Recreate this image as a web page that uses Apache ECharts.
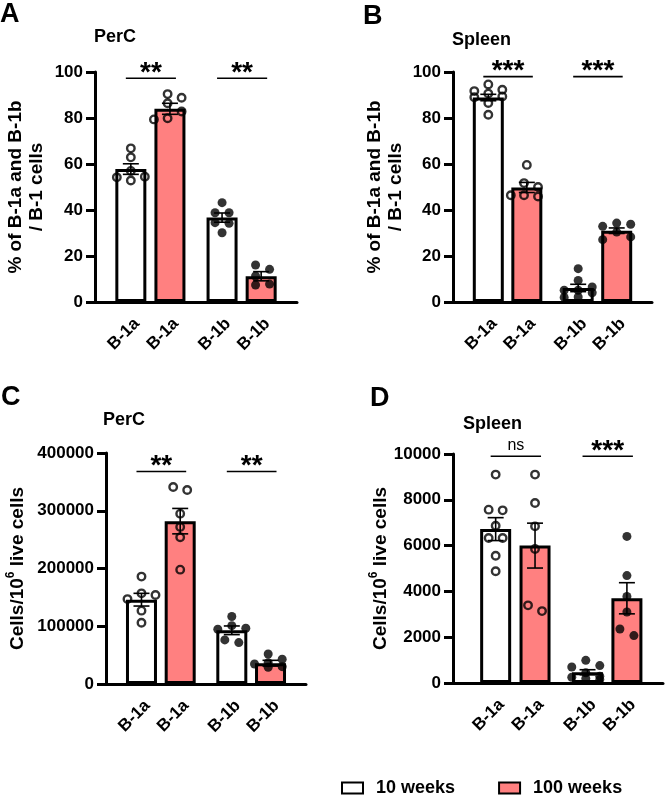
<!DOCTYPE html>
<html><head><meta charset="utf-8">
<script src="https://cdn.jsdelivr.net/npm/echarts@6/dist/echarts.min.js"></script>
<style>html,body{margin:0;padding:0;background:#fff}#c{width:665px;height:795px}</style>
</head><body><div id="c"></div>
<script>
// ---------- data ----------
const categories = ['B-1a', 'B-1a', 'B-1b', 'B-1b'];
const groups = ['10 weeks', '100 weeks', '10 weeks', '100 weeks'];
const groupNames = ['10 weeks', '100 weeks'];

// Panel A: PerC, % of B-1 cells
const aPoints = [
  [57.0, 52.8, 54.5, 54.2, 66.8, 62.9],
  [90.4, 88.8, 86.4, 82.8, 79.9, 79.4],
  [43.2, 38.8, 38.8, 34.5, 34.2, 30.1],
  [11.3, 14.2, 16.1, 7.4, 7.8]
];
const aMean = [57.8, 84.0, 36.7, 11.2];
const aSem = [2.3, 2.4, 2.0, 2.0];
const aSig = ['**', '**'];
const aSigY = [97.3, 97.3];
const aTicks = [0, 20, 40, 60, 80, 100];

// Panel B: Spleen, % of B-1 cells
const bPoints = [
  [94.6, 92.3, 91.7, 90.6, 89.4, 89.0, 86.5, 81.4],
  [59.6, 51.7, 50.0, 46.4, 46.4, 45.9],
  [14.5, 9.4, 6.5, 5.1, 5.1, 4.0, 2.2, 2.0],
  [33.8, 34.3, 32.9, 30.4, 27.1, 28.3]
];
const bMean = [88.9, 49.8, 6.1, 31.0];
const bSem = [1.4, 2.2, 1.6, 1.2];
const bSig = ['***', '***'];
const bSigY = [98, 98];
const bTicks = [0, 20, 40, 60, 80, 100];

// Panel C: PerC, cells / 10^6 live cells
const cPoints = [
  [186000, 154000, 157000, 147000, 127000, 106000],
  [336000, 341000, 295000, 272000, 254000, 198000],
  [116800, 101000, 96500, 94800, 71700, 76300],
  [52000, 42800, 37000, 30000, 29000, 34700]
];
const cMean = [146000, 282000, 93000, 36000];
const cSem = [11000, 22000, 7500, 5000];
const cSig = ['**', '**'];
const cSigY = [368000, 368000];
const cTicks = [0, 100000, 200000, 300000, 400000];

// Panel D: Spleen, cells / 10^6 live cells
const dPoints = [
  [9100, 7570, 7540, 6870, 6330, 6330, 5560, 4880],
  [9100, 7860, 6840, 5850, 3390, 3140],
  [990, 760, 700, 450, 300, 250, 200, 150],
  [6400, 4690, 3780, 3100, 2360, 2070]
];
const dMean = [6720, 6000, 470, 3700];
const dSem = [500, 980, 110, 680];
const dSig = ['ns', '***'];
const dSigY = [9900, 9900];
const dTicks = [0, 2000, 4000, 6000, 8000, 10000];

const panelLetters = ['A', 'B', 'C', 'D'];
const panelTitles = ['PerC', 'Spleen', 'PerC', 'Spleen'];
const yNamePct = '% of B-1a and B-1b\n/ B-1 cells';
const yNameCells = '{n|Cells/10}{s|6}{n| live cells}';

// ---------- layout / style ----------
const FONT = "'Liberation Sans', Arial, Helvetica, sans-serif";
const RED = '#ff8080';
const slotOffsets = [0, 6, 14, 20];
const layout = [
  { left: 95, top: 72, width: 202, height: 230, padL: 5, padR: 5, nameGap: 48 },
  { left: 453, top: 72, width: 199, height: 230, padL: 5, padR: 5, nameGap: 47 },
  { left: 106, top: 453, width: 200, height: 231, padL: 5, padR: 5, nameGap: 75 },
  { left: 453, top: 454, width: 210, height: 229, padL: 6, padR: 5, nameGap: 54 }
];
const titlePos = [
  { letter: [0, 1], title: [94, 28] },
  { letter: [363, 3], title: [452, 31] },
  { letter: [1, 384], title: [103, 411] },
  { letter: [370, 385], title: [463, 415] }
];
// dot spreading (GraphPad-like scatter arrangement)
const SWARM_SP = 14;     // horizontal spacing of colliding dots (px)
const SWARM_ROW = 8.5;   // vertical distance below which dots collide (px)
const SWARM_CANDS = [0, 7, -7, 14, -14];
const SWARM_MAX = 16;

const panels = [
  { points: aPoints, mean: aMean, sem: aSem, sig: aSig, sigY: aSigY, ticks: aTicks, yName: yNamePct },
  { points: bPoints, mean: bMean, sem: bSem, sig: bSig, sigY: bSigY, ticks: bTicks, yName: yNamePct },
  { points: cPoints, mean: cMean, sem: cSem, sig: cSig, sigY: cSigY, ticks: cTicks, yName: yNameCells },
  { points: dPoints, mean: dMean, sem: dSem, sig: dSig, sigY: dSigY, ticks: dTicks, yName: yNameCells }
];

function errRender(params, api) {
  const x = api.value(0), m = api.value(1), s = api.value(2);
  const top = api.coord([x, m + s]), bot = api.coord([x, m - s]);
  const cx = top[0], hw = 8;
  const st = { stroke: '#000', lineWidth: 1.6 };
  return { type: 'group', children: [
    { type: 'line', shape: { x1: cx, y1: top[1], x2: cx, y2: bot[1] }, style: st },
    { type: 'line', shape: { x1: cx - hw, y1: top[1], x2: cx + hw, y2: top[1] }, style: st },
    { type: 'line', shape: { x1: cx - hw, y1: bot[1], x2: cx + hw, y2: bot[1] }, style: st }
  ] };
}

function bracketRender(sig) {
  return function (params, api) {
    const l = api.coord([api.value(0), api.value(2)]);
    const r = api.coord([api.value(1), api.value(2)]);
    const x1 = l[0] - 5, x2 = r[0] + 6, y = l[1];
    const label = sig[params.dataIndex];
    const ns = label === 'ns';
    return { type: 'group', children: [
      { type: 'line', shape: { x1: x1, y1: y, x2: x2, y2: y }, style: { stroke: '#000', lineWidth: 1.6 } },
      { type: 'text', x: (x1 + x2) / 2, y: ns ? y - 3 : y - 5,
        style: { text: label, fill: '#000', fontFamily: FONT,
          fontSize: ns ? 16 : 28, fontWeight: ns ? 'normal' : 'bold',
          align: 'center', verticalAlign: ns ? 'bottom' : 'middle' } }
    ] };
  };
}

const option = {
  animation: false,
  backgroundColor: '#fff',
  title: [], grid: [], xAxis: [], yAxis: [], series: [],
  legend: {
    data: groupNames, left: 341, top: 779, padding: 0,
    icon: 'rect', itemWidth: 21, itemHeight: 11, itemGap: 43,
    selectedMode: false,
    itemStyle: { borderColor: '#000', borderWidth: 2 },
    textStyle: { fontSize: 18, fontWeight: 'bold', fontFamily: FONT, color: '#000', padding: [0, 0, 0, 8] }
  }
};

panels.forEach((p, gi) => {
  const L = layout[gi];
  const nSlots = L.padL + 21 + L.padR;
  const slotIdx = slotOffsets.map(o => o + L.padL);
  const slotLabels = Array.from({ length: nSlots }, () => '');
  slotIdx.forEach((s, k) => { slotLabels[s] = categories[k]; });
  const showAt = (i) => slotLabels[i] !== '';

  option.title.push({ text: panelLetters[gi], left: titlePos[gi].letter[0], top: titlePos[gi].letter[1], padding: 0,
    textStyle: { fontSize: 27, fontWeight: 'bold', fontFamily: FONT, color: '#000' } });
  option.title.push({ text: panelTitles[gi], left: titlePos[gi].title[0], top: titlePos[gi].title[1], padding: 0,
    textStyle: { fontSize: 18, fontWeight: 'bold', fontFamily: FONT, color: '#000' } });

  option.grid.push({ left: L.left, top: L.top, width: L.width, height: L.height });

  option.xAxis.push({
    type: 'category', gridIndex: gi, boundaryGap: true,
    data: slotLabels.map((_, i) => 's' + i),
    axisLine: { lineStyle: { color: '#000', width: 3 } },
    axisTick: { alignWithLabel: true, interval: showAt, length: 10, lineStyle: { color: '#000', width: 3 } },
    axisLabel: { interval: showAt, formatter: (v, i) => slotLabels[i], rotate: 45, margin: 13,
      verticalAlign: 'top',
      fontSize: 17, fontWeight: 'bold', fontFamily: FONT, color: '#000' },
    splitLine: { show: false }
  });

  const t = p.ticks;
  const isRich = p.yName.indexOf('{n|') === 0;
  option.yAxis.push({
    type: 'value', gridIndex: gi, min: t[0], max: t[t.length - 1], interval: t[1] - t[0],
    name: p.yName, nameLocation: 'middle', nameGap: L.nameGap, nameRotate: 90,
    nameTextStyle: isRich ? {
      rich: {
        n: { fontSize: 19, fontWeight: 'bold', fontFamily: FONT, color: '#000', lineHeight: 26 },
        s: { fontSize: 12, fontWeight: 'bold', fontFamily: FONT, color: '#000', verticalAlign: 'top', lineHeight: 14 }
      }
    } : { fontSize: 19, fontWeight: 'bold', fontFamily: FONT, color: '#000', lineHeight: 21 },
    axisLine: { show: true, lineStyle: { color: '#000', width: 3 } },
    axisTick: { show: true, length: 9, lineStyle: { color: '#000', width: 3 } },
    axisLabel: { margin: 12, fontSize: 17, fontWeight: 'bold', fontFamily: FONT, color: '#000', formatter: v => String(v) },
    splitLine: { show: false }
  });

  groupNames.forEach((gname, g) => {
    const data = Array(nSlots).fill('-');
    categories.forEach((c, k) => { if (groups[k] === gname) data[slotIdx[k]] = p.mean[k]; });
    option.series.push({
      type: 'bar', name: gname, xAxisIndex: gi, yAxisIndex: gi, data: data,
      barWidth: 31, barGap: '-100%', z: 2, silent: true,
      itemStyle: { color: g ? RED : '#fff', borderColor: '#000', borderWidth: 3 }
    });
  });

  const open = [], filled = [];
  p.points.forEach((arr, k) => arr.forEach(v => (categories[k] === 'B-1a' ? open : filled).push([slotIdx[k], v])));
  option.series.push({
    type: 'scatter', id: 'open' + gi, name: 'open' + gi, xAxisIndex: gi, yAxisIndex: gi, data: open,
    symbol: 'circle', symbolSize: 7.5, z: 4, silent: true,
    itemStyle: { color: 'rgba(0,0,0,0)', borderColor: '#000', borderWidth: 2.4 }
  });
  option.series.push({
    type: 'scatter', id: 'filled' + gi, name: 'filled' + gi, xAxisIndex: gi, yAxisIndex: gi, data: filled,
    symbol: 'circle', symbolSize: 9, z: 4, silent: true,
    itemStyle: { color: '#000' }
  });

  option.series.push({
    type: 'custom', name: 'err' + gi, xAxisIndex: gi, yAxisIndex: gi,
    data: slotIdx.map((s, k) => [s, p.mean[k], p.sem[k]]),
    encode: { x: 0, y: 1 }, renderItem: errRender, z: 5, silent: true, clip: false
  });

  option.series.push({
    type: 'custom', name: 'sig' + gi, xAxisIndex: gi, yAxisIndex: gi,
    data: p.sigY.map((y, j) => [slotIdx[2 * j], slotIdx[2 * j + 1], y]),
    encode: { x: [0, 1], y: 2 }, renderItem: bracketRender(p.sig), z: 6, silent: true, clip: false
  });
});

const chart = echarts.init(document.getElementById('c'), null, { renderer: 'canvas' });
chart.setOption(option);

// ---------- horizontal spreading of dots inside each column ----------
function spread(pys) {
  const n = pys.length;
  const order = pys.map((_, i) => i).sort((a, b) => pys[a] - pys[b]);
  const xs = new Array(n).fill(0);
  const placed = [];
  order.forEach(i => {
    let best = 0, bestCost = Infinity;
    SWARM_CANDS.forEach(c => {
      let pen = 0;
      placed.forEach(j => {
        const ddx = Math.abs(c - xs[j]), ddy = Math.abs(pys[i] - pys[j]);
        if (ddx < SWARM_SP && ddy < SWARM_ROW) pen += (SWARM_SP - ddx) * (SWARM_ROW - ddy);
      });
      const cost = pen * 100 + Math.abs(c);
      if (cost < bestCost) { bestCost = cost; best = c; }
    });
    xs[i] = best; placed.push(i);
  });
  // centre each vertically-connected cluster
  let start = 0;
  for (let k = 1; k <= n; k++) {
    if (k === n || pys[order[k]] - pys[order[k - 1]] >= SWARM_ROW) {
      const ids = order.slice(start, k);
      const m = ids.reduce((s, i) => s + xs[i], 0) / ids.length;
      ids.forEach(i => { xs[i] = Math.max(-SWARM_MAX, Math.min(SWARM_MAX, xs[i] - m)); });
      start = k;
    }
  }
  return xs;
}

const updates = [];
option.series.forEach((s, si) => {
  if (s.type !== 'scatter') return;
  const offs = new Array(s.data.length).fill(0);
  const bySlot = {};
  s.data.forEach((d, i) => { (bySlot[d[0]] = bySlot[d[0]] || []).push(i); });
  Object.keys(bySlot).forEach(k => {
    const ids = bySlot[k];
    const pys = ids.map(i => chart.convertToPixel({ seriesIndex: si }, s.data[i])[1]);
    const xs = spread(pys);
    ids.forEach((i, j) => { offs[i] = xs[j]; });
  });
  updates.push({ id: s.id, data: s.data.map((d, i) => ({ value: d, symbolOffset: [offs[i], 0] })) });
});
chart.setOption({ series: updates });
</script>
</body></html>
